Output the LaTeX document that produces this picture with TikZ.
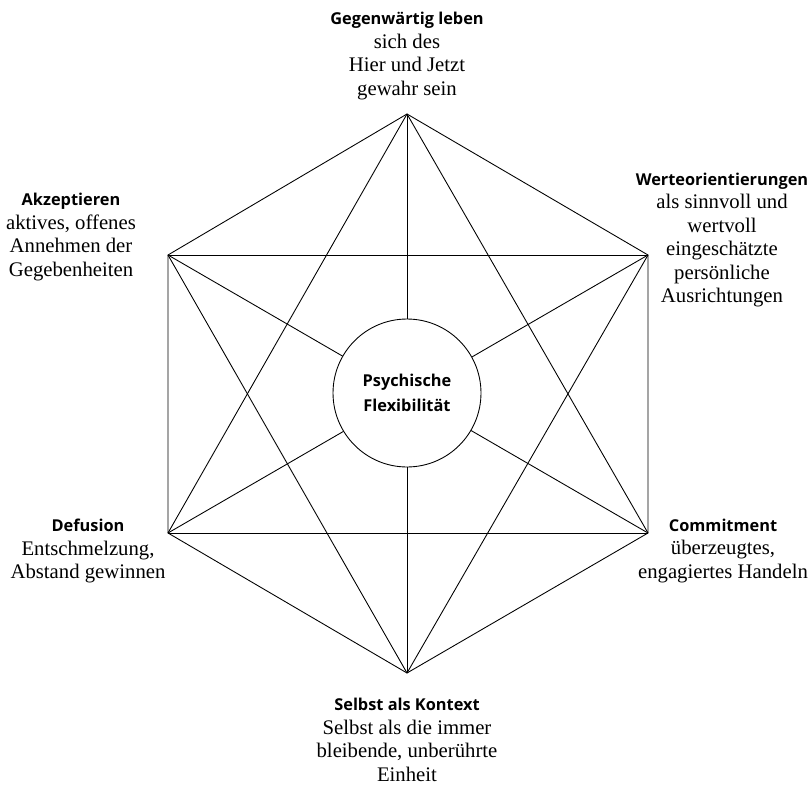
\documentclass[tikz,border=0pt]{standalone}
\usepackage{fontspec}
\setmainfont{Liberation Serif}
\setsansfont{Open Sans}
\usepackage{tikz}
\newcommand\acthead[1]{{\fontsize{9.3}{13.4}\selectfont\sffamily\bfseries #1}}

\begin{document}
\begin{tikzpicture}[x=0.02cm,y=-0.02cm,line width=0.5pt,lbl/.style={align=center,inner sep=0pt,font=\fontsize{11.8}{13.4}\selectfont}]
\useasboundingbox (0,0) rectangle (811,784);
\coordinate(top) at (407,114);\coordinate(ur) at (648,255);\coordinate(lr) at (648,533);
\coordinate(bot) at (407,673);\coordinate(ll) at (168,533);\coordinate(ul) at (168,255);
\node(gl)[lbl] at (407,56){\acthead{Gegenwärtig leben}\\sich des\\Hier und Jetzt\\gewahr sein};
\node(wo)[lbl] at (722,240){\acthead{Werteorientierungen}\\als sinnvoll und\\wertvoll\\eingeschätzte\\persönliche\\Ausrichtungen};
\node(ak)[lbl] at (71,237){\acthead{Akzeptieren}\\aktives, offenes\\Annehmen der\\Gegebenheiten};
\node(df)[lbl] at (88,551){\acthead{Defusion}\\Entschmelzung,\\Abstand gewinnen};
\node(cm)[lbl] at (723,551){\acthead{Commitment}\\überzeugtes,\\engagiertes Handeln};
\node(sk)[lbl] at (407,740){\acthead{Selbst als Kontext}\\Selbst als die immer\\bleibende, unberührte\\Einheit};
% hexagon and diagonals
\draw(top)--(ur)--(lr)--(bot)--(ll)--(ul)--cycle;
\draw(top)--(lr);\draw(top)--(bot);\draw(top)--(ll);\draw(ur)--(bot);\draw(ur)--(ll);\draw(ur)--(ul);
\draw(lr)--(ll);\draw(lr)--(ul);\draw(bot)--(ul);
% centre circle covers the long diagonals
\node(psy)[draw,fill=white,circle,minimum size=2.96cm,inner sep=0pt,align=center,font=\fontsize{9.3}{14}\selectfont\sffamily\bfseries] at (407,393){Psychische\\Flexibilität};
\end{tikzpicture}
\end{document}
